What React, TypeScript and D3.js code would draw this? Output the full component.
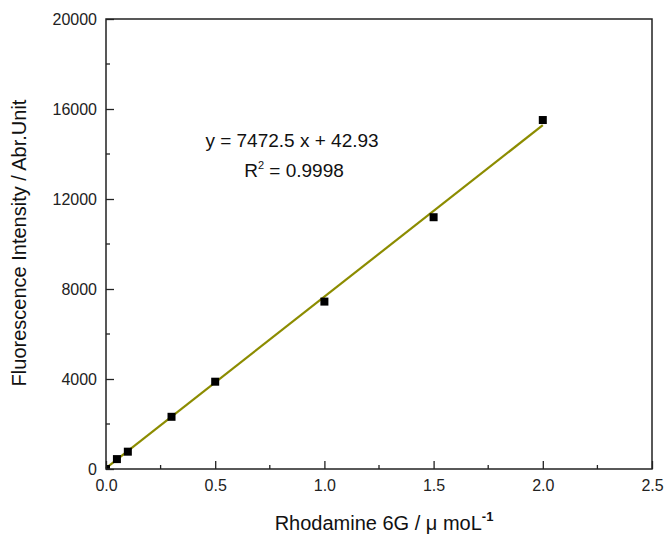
import React, { useEffect, useRef } from 'react';
import * as d3 from 'd3';

// measured points (concentration in µmol/L, fluorescence)
const concX = [0, 0.05, 0.1, 0.3, 0.5, 1.0, 1.5, 2.0];
const intensityY = [0, 440, 770, 2320, 3880, 7440, 11190, 15510];

// fitted line as drawn
const fitX = [0, 2.0];
const fitY = [40, 15280];

const xTicks = [0, 0.5, 1.0, 1.5, 2.0, 2.5];
const yTicks = [0, 4000, 8000, 12000, 16000, 20000];

const eqLines = ['y = 7472.5 x + 42.93', '0.9998'];

export default function App() {
  const ref = useRef<SVGSVGElement>(null);

  useEffect(() => {
    const svg = d3.select(ref.current);
    svg.selectAll('*').remove();

    const left = 106, right = 652, top = 19, bottom = 469;
    const font = 'Arial, "Liberation Sans", sans-serif';

    const x = d3.scaleLinear().domain([0, 2.5]).range([left, right]);
    const y = d3.scaleLinear().domain([0, 20000]).range([bottom, top]);

    // plot clip so markers on the axes are cut like in Origin
    svg.append('clipPath').attr('id', 'plotClip')
      .append('rect')
      .attr('x', left).attr('y', top)
      .attr('width', right - left).attr('height', bottom - top);

    // x axis, ticks pointing in
    const xAxis = svg.append('g')
      .attr('transform', `translate(0,${bottom})`)
      .call(d3.axisBottom(x).tickValues(xTicks).tickSize(-8).tickPadding(11).tickFormat(d3.format('.1f')));
    xAxis.selectAll('text').style('font-family', font).style('font-size', '16px').attr('fill', '#222');

    const yAxis = svg.append('g')
      .attr('transform', `translate(${left},0)`)
      .call(d3.axisLeft(y).tickValues(yTicks).tickSize(-8).tickPadding(9).tickFormat(d3.format('d')));
    yAxis.selectAll('text').style('font-family', font).style('font-size', '16px').attr('fill', '#222');

    svg.selectAll('.domain').remove();
    svg.selectAll('.tick line').attr('stroke', '#222').attr('stroke-width', 1.3);

    // minor ticks
    const xMinor = d3.range(0.25, 2.5, 0.5);
    svg.append('g').selectAll('line').data(xMinor).join('line')
      .attr('x1', d => x(d)).attr('x2', d => x(d))
      .attr('y1', bottom).attr('y2', bottom - 4)
      .attr('stroke', '#222').attr('stroke-width', 1.3);
    const yMinor = d3.range(2000, 20000, 4000);
    svg.append('g').selectAll('line').data(yMinor).join('line')
      .attr('x1', left).attr('x2', left + 4)
      .attr('y1', d => y(d)).attr('y2', d => y(d))
      .attr('stroke', '#222').attr('stroke-width', 1.3);

    // fit line
    const line = d3.line<number>().x((d, i) => x(fitX[i])).y(d => y(d));
    svg.append('path')
      .datum(fitY)
      .attr('d', line)
      .attr('fill', 'none')
      .attr('stroke', '#8c8c00')
      .attr('stroke-width', 2.2);

    // points
    svg.append('g').attr('clip-path', 'url(#plotClip)')
      .selectAll('rect').data(concX).join('rect')
      .attr('x', d => x(d) - 4)
      .attr('y', (d, i) => y(intensityY[i]) - 4)
      .attr('width', 8).attr('height', 8)
      .attr('fill', '#000');

    // frame
    svg.append('rect')
      .attr('x', left).attr('y', top)
      .attr('width', right - left).attr('height', bottom - top)
      .attr('fill', 'none').attr('stroke', '#222').attr('stroke-width', 1.5);

    // equation
    svg.append('text')
      .attr('x', 292).attr('y', 147)
      .attr('text-anchor', 'middle')
      .style('font-family', font).style('font-size', '19px').attr('fill', '#111')
      .text(eqLines[0]);
    const r2 = svg.append('text')
      .attr('x', 294).attr('y', 177)
      .attr('text-anchor', 'middle')
      .style('font-family', font).style('font-size', '19px').attr('fill', '#111');
    r2.append('tspan').text('R');
    r2.append('tspan').attr('dy', -8).style('font-size', '11px').text('2');
    r2.append('tspan').attr('dy', 8).text(' = ' + eqLines[1]);

    // axis titles
    const xt = svg.append('text')
      .attr('x', 384).attr('y', 530)
      .attr('text-anchor', 'middle')
      .style('font-family', font).style('font-size', '20px').attr('fill', '#111');
    xt.append('tspan').text('Rhodamine 6G / μ moL');
    xt.append('tspan').attr('dy', -9).style('font-size', '13px').style('font-weight', 'bold').text('-1');

    svg.append('text')
      .attr('transform', `translate(26,243) rotate(-90)`)
      .attr('text-anchor', 'middle')
      .style('font-family', font).style('font-size', '20px').attr('fill', '#111')
      .text('Fluorescence Intensity / Abr.Unit');
  }, []);

  return (
    <svg ref={ref} width={664} height={537}
      style={{ position: 'absolute', left: 0, top: 0, background: '#fff' }} />
  );
}
